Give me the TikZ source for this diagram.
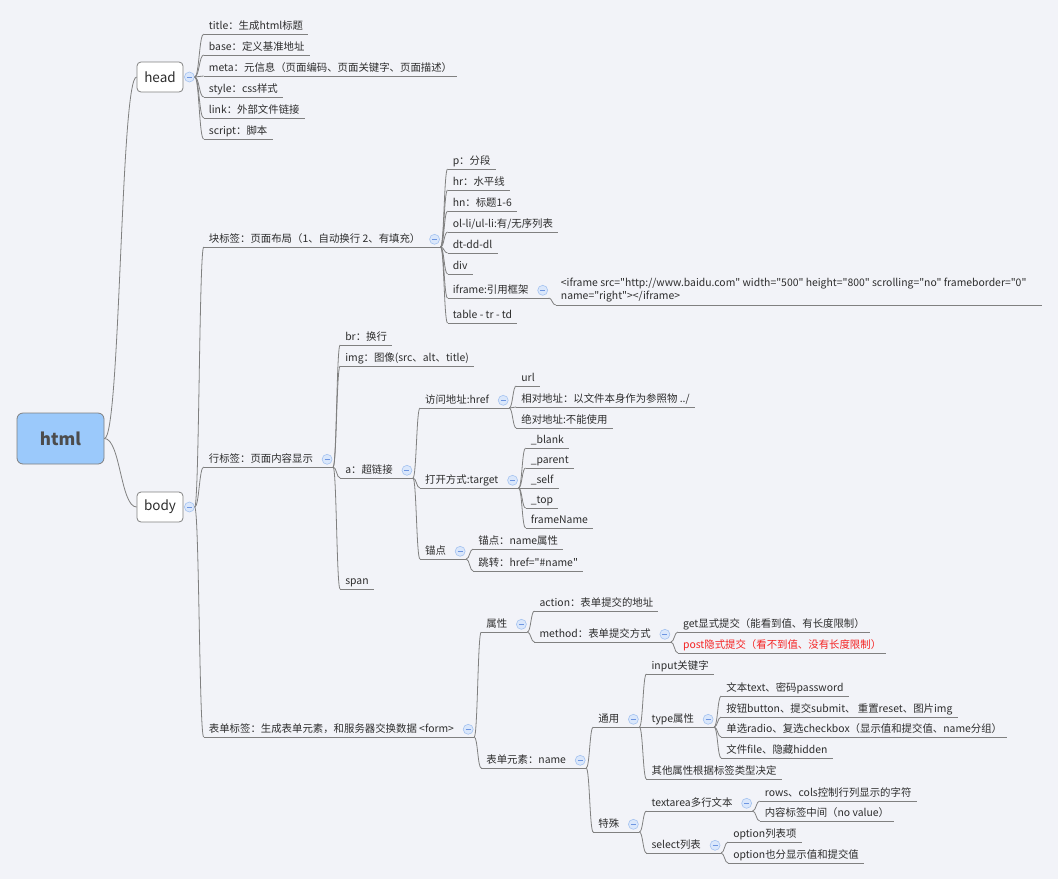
\documentclass[tikz,border=0pt]{standalone}
\usepackage{fontspec}
\newfontfamily\cjk{Noto Sans CJK SC}
\usetikzlibrary{calc}

\definecolor{paper}{RGB}{242,243,248}
\definecolor{wire}{RGB}{128,128,128}
\definecolor{ink}{RGB}{45,45,45}
\definecolor{rootfill}{RGB}{155,201,251}
\definecolor{foldfill}{RGB}{218,231,251}
\definecolor{folddraw}{RGB}{165,195,240}
\definecolor{foldmark}{RGB}{110,150,225}
\definecolor{warn}{RGB}{245,35,35}

\tikzset{
  wire/.style={draw=wire, line width=0.8pt},
  topic/.style={anchor=south west, inner xsep=5pt, inner ysep=2pt,
    text height=8.5pt, text depth=2.5pt, text=ink,
    font=\cjk\fontsize{10.4}{13}\selectfont},
  note/.style={anchor=south west, inner xsep=5pt, inner ysep=2.5pt,
    text=ink, align=left, font=\cjk\fontsize{10.4}{13}\selectfont},
  tagbox/.style={draw=wire, fill=white, rounded corners=4pt, line width=0.8pt,
    minimum width=46pt, minimum height=30pt, inner sep=0pt, text=ink,
    font=\cjk\fontsize{13.5}{16}\selectfont},
  fold/.style={circle, draw=folddraw, fill=foldfill, line width=0.6pt,
    minimum size=10pt, inner sep=0pt,
    path picture={\draw[foldmark, line width=0.8pt]
      ([xshift=-2.5pt]path picture bounding box.center) -- ++(5pt,0);}},
  branch/.style={wire, to path={let \p1=(\tikztostart), \p2=(\tikztotarget) in
    .. controls (\x1/2+\x2/2,\y1) and (\x1/2+\x2/2,\y2) .. (\tikztotarget)}},
}

% circle and longer underline for a topic that has children
\newcommand\foldat[1]{%
  \node[fold] (#1-f) at ([xshift=9pt]#1.east) {};
  \coordinate (#1-o) at ([xshift=6pt]#1-f.center |- #1.south);
  \draw[wire] (#1.south west) -- (#1-o);
}

\begin{document}
\begin{tikzpicture}[x=1pt, y=-1pt]
  \fill[paper] (0,0) rectangle (1058,879);
  \useasboundingbox (0,0) rectangle (1058,879);

  \node[tagbox, fill=rootfill, minimum width=87pt, minimum height=51pt,
    rounded corners=6pt, text=ink!85, font=\cjk\fontsize{17}{20}\selectfont\bfseries]
    (html) at (60.5,438.5) {html};
  \foreach \tg/\yy in {head/77, body/507}
  {
    \node[tagbox] (\tg) at (160,\yy) {\tg};
    \node[fold] (\tg-f) at ([xshift=6pt]\tg.east) {};
    \coordinate (\tg-o) at (\tg-f.east);
    \draw[branch] (html.east) to (\tg.west);
  }

  % head
  \coordinate (hx) at ([xshift=9pt]head-o);
  \foreach \nd/\yy/\lbl in {h1/34/title：生成html标题, h2/55/base：定义基准地址,
      h3/76/meta：元信息（页面编码、页面关键字、页面描述）, h4/97/style：css样式,
      h5/118/link：外部文件链接, h6/139/script：脚本}
  {
    \node[topic] (\nd) at (hx |- 0,\yy) {\lbl};
    \draw[wire] (\nd.south west) -- (\nd.south east);
    \draw[branch] (head-o) to (\nd.south west);
  }

  % body
  \coordinate (bx) at ([xshift=9pt]body-o);
  \foreach \nd/\yy/\lbl in {blk/247/块标签：页面布局（1、自动换行 2、有填充）,
      inl/467/行标签：页面内容显示, frm/737/表单标签：生成表单元素，和服务器交换数据 <form>}
  {
    \node[topic] (\nd) at (bx |- 0,\yy) {\lbl};
    \foldat{\nd}
    \draw[branch] (body-o) to (\nd.south west);
  }

  % block tags
  \coordinate (px) at ([xshift=7pt]blk-o);
  \foreach \nd/\yy/\lbl in {p1/169/p：分段, p2/190/hr：水平线, p3/211/hn：标题1-6,
      p4/232/{ol-li/ul-li:有/无序列表}, p5/253/dt-dd-dl, p6/274/div,
      ifr/298/iframe:引用框架, p8/323/table - tr - td}
  {
    \node[topic] (\nd) at (px |- 0,\yy) {\lbl};
    \draw[wire] (\nd.south west) -- (\nd.south east);
    \draw[branch] (blk-o) to (\nd.south west);
  }
  \foldat{ifr}
  \node[note] (src) at ([xshift=7pt]ifr-o |- 0,305)
    {<iframe src="http://www.baidu.com" width="500" height="800" scrolling="no" frameborder="0"\\ name="right"></iframe>};
  \draw[wire] (src.south west) -- (src.south west -| 1042,0);
  \draw[branch] (ifr-o) to (src.south west);

  % inline tags
  \coordinate (ix) at ([xshift=7pt]inl-o);
  \foreach \nd/\yy/\lbl in {i1/345/br：换行, i2/366/img：图像(src、alt、title),
      lnk/478/a：超链接, i4/589/span}
  {
    \node[topic] (\nd) at (ix |- 0,\yy) {\lbl};
    \draw[wire] (\nd.south west) -- (\nd.south east);
    \draw[branch] (inl-o) to (\nd.south west);
  }
  \foldat{lnk}

  \coordinate (ax) at ([xshift=7pt]lnk-o);
  \foreach \nd/\yy/\lbl in {hrf/408/访问地址:href, tgt/488/打开方式:target, anc/559/锚点}
  {
    \node[topic] (\nd) at (ax |- 0,\yy) {\lbl};
    \foldat{\nd}
    \draw[branch] (lnk-o) to (\nd.south west);
  }

  \coordinate (rx) at ([xshift=7pt]hrf-o);
  \foreach \nd/\yy/\lbl in {r1/386/url, r2/407/{相对地址：以文件本身作为参照物 ../},
      r3/428/绝对地址:不能使用}
  {
    \node[topic] (\nd) at (rx |- 0,\yy) {\lbl};
    \draw[wire] (\nd.south west) -- (\nd.south east);
    \draw[branch] (hrf-o) to (\nd.south west);
  }

  \coordinate (gx) at ([xshift=7pt]tgt-o);
  \foreach \nd/\yy/\lbl in {g1/448/\_blank, g2/468/\_parent, g3/488/\_self,
      g4/508/\_top, g5/528/frameName}
  {
    \node[topic] (\nd) at (gx |- 0,\yy) {\lbl};
    \draw[wire] (\nd.south west) -- (\nd.south east);
    \draw[branch] (tgt-o) to (\nd.south west);
  }

  \coordinate (kx) at ([xshift=7pt]anc-o);
  \foreach \nd/\yy/\lbl in {k1/549/锚点：name属性, k2/571/跳转：href="\#name"}
  {
    \node[topic] (\nd) at (kx |- 0,\yy) {\lbl};
    \draw[wire] (\nd.south west) -- (\nd.south east);
    \draw[branch] (anc-o) to (\nd.south west);
  }

  % form tags
  \coordinate (fx) at ([xshift=7pt]frm-o);
  \foreach \nd/\yy/\lbl in {atr/632/属性, elm/768/表单元素：name}
  {
    \node[topic] (\nd) at (fx |- 0,\yy) {\lbl};
    \foldat{\nd}
    \draw[branch] (frm-o) to (\nd.south west);
  }

  \coordinate (tx) at ([xshift=7pt]atr-o);
  \foreach \nd/\yy/\lbl in {t1/611/action：表单提交的地址, mth/642/method：表单提交方式}
  {
    \node[topic] (\nd) at (tx |- 0,\yy) {\lbl};
    \draw[wire] (\nd.south west) -- (\nd.south east);
    \draw[branch] (atr-o) to (\nd.south west);
  }
  \foldat{mth}

  \coordinate (mx) at ([xshift=7pt]mth-o);
  \foreach \nd/\yy/\lbl in {m1/632/get显式提交（能看到值、有长度限制）,
      m2/653/{\color{warn}post隐式提交（看不到值、没有长度限制）}}
  {
    \node[topic] (\nd) at (mx |- 0,\yy) {\lbl};
    \draw[wire] (\nd.south west) -- (\nd.south east);
    \draw[branch] (mth-o) to (\nd.south west);
  }

  \coordinate (ex) at ([xshift=7pt]elm-o);
  \foreach \nd/\yy/\lbl in {gen/727/通用, spc/832/特殊}
  {
    \node[topic] (\nd) at (ex |- 0,\yy) {\lbl};
    \foldat{\nd}
    \draw[branch] (elm-o) to (\nd.south west);
  }

  \coordinate (cx) at ([xshift=7pt]gen-o);
  \foreach \nd/\yy/\lbl in {c1/674/input关键字, typ/727/type属性, c3/779/其他属性根据标签类型决定}
  {
    \node[topic] (\nd) at (cx |- 0,\yy) {\lbl};
    \draw[wire] (\nd.south west) -- (\nd.south east);
    \draw[branch] (gen-o) to (\nd.south west);
  }
  \foldat{typ}

  \coordinate (yx) at ([xshift=7pt]typ-o);
  \foreach \nd/\yy/\lbl in {y1/696/文本text、密码password,
      y2/717/按钮button、提交submit、 重置reset、图片img,
      y3/737/单选radio、复选checkbox（显示值和提交值、name分组）,
      y4/758/文件file、隐藏hidden}
  {
    \node[topic] (\nd) at (yx |- 0,\yy) {\lbl};
    \draw[wire] (\nd.south west) -- (\nd.south east);
    \draw[branch] (typ-o) to (\nd.south west);
  }

  \coordinate (sx) at ([xshift=7pt]spc-o);
  \foreach \nd/\yy/\lbl in {txa/811/textarea多行文本, sel/853/select列表}
  {
    \node[topic] (\nd) at (sx |- 0,\yy) {\lbl};
    \foldat{\nd}
    \draw[branch] (spc-o) to (\nd.south west);
  }

  \coordinate (xx) at ([xshift=7pt]txa-o);
  \foreach \nd/\yy/\lbl in {x1/801/rows、cols控制行列显示的字符, x2/821/内容标签中间（no value）}
  {
    \node[topic] (\nd) at (xx |- 0,\yy) {\lbl};
    \draw[wire] (\nd.south west) -- (\nd.south east);
    \draw[branch] (txa-o) to (\nd.south west);
  }

  \coordinate (ox) at ([xshift=7pt]sel-o);
  \foreach \nd/\yy/\lbl in {o1/842/option列表项, o2/863/option也分显示值和提交值}
  {
    \node[topic] (\nd) at (ox |- 0,\yy) {\lbl};
    \draw[wire] (\nd.south west) -- (\nd.south east);
    \draw[branch] (sel-o) to (\nd.south west);
  }
\end{tikzpicture}
\end{document}
